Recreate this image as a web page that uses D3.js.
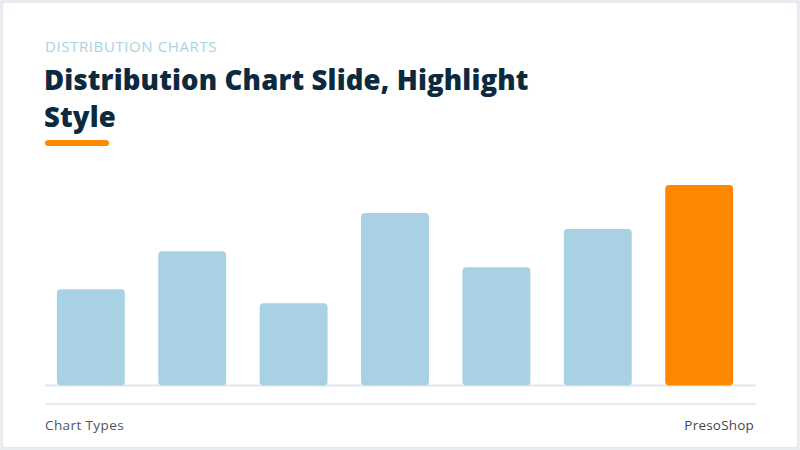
<!DOCTYPE html>
<html>
<head>
<meta charset="utf-8">
<script src="https://cdn.jsdelivr.net/npm/d3@7"></script>
<style>
  html, body { margin: 0; padding: 0; background: #e9ecf1; }
  svg { display: block; }
</style>
</head>
<body>
<div id="chart"></div>
<script>
// bar data
var categories = ["A", "B", "C", "D", "E", "F", "G"];
var values = [48, 67, 41, 86, 59, 78, 100];
var highlight = "G";

var eyebrow = "DISTRIBUTION CHARTS";
var titleLines = ["Distribution Chart Slide, Highlight", "Style"];
var footerLeft = "Chart Types";
var footerRight = "PresoShop";

var w = 800;
var h = 450;
var font = "'Open Sans', 'DejaVu Sans', sans-serif";

var svg = d3.select("#chart")
            .append("svg")
            .attr("width", w)
            .attr("height", h);

// card
svg.append("rect")
   .attr("x", 2.5)
   .attr("y", 2.5)
   .attr("width", w - 5)
   .attr("height", h - 5)
   .attr("rx", 3)
   .attr("fill", "#ffffff")
   .attr("stroke", "#e4e8ee")
   .attr("stroke-width", 1);

// header
svg.append("text")
   .attr("x", 45)
   .attr("y", 51.5)
   .attr("fill", "#a9d2e2")
   .attr("font-family", font)
   .attr("font-size", 15)
   .attr("letter-spacing", 0.6)
   .text(eyebrow);

svg.selectAll("text.title")
   .data(titleLines)
   .enter()
   .append("text")
   .attr("class", "title")
   .attr("x", 44)
   .attr("y", function(d, i) { return 89.5 + i * 37.4; })
   .attr("fill", "#0c2a3d")
   .attr("font-family", font)
   .attr("font-weight", 800)
   .attr("font-size", 27.5)
   .attr("letter-spacing", 0.15)
   .text(function(d) { return d; });

svg.append("rect")
   .attr("x", 45)
   .attr("y", 140)
   .attr("width", 64)
   .attr("height", 6)
   .attr("rx", 3)
   .attr("fill", "#ff8a00");

// scales
var xScale = d3.scaleBand()
               .domain(categories)
               .range([45, 745])
               .paddingInner(0.33)
               .paddingOuter(0.117);

var yScale = d3.scaleLinear()
               .domain([0, 100])
               .range([385.5, 185]);

// baseline
svg.append("line")
   .attr("x1", 45)
   .attr("x2", 756)
   .attr("y1", yScale(0))
   .attr("y2", yScale(0))
   .attr("stroke", "#e2e6eb")
   .attr("stroke-width", 2);

// bars
svg.selectAll("rect.bar")
   .data(values)
   .enter()
   .append("rect")
   .attr("class", "bar")
   .attr("x", function(d, i) { return xScale(categories[i]); })
   .attr("y", function(d) { return yScale(d); })
   .attr("width", xScale.bandwidth())
   .attr("height", function(d) { return yScale(0) - yScale(d); })
   .attr("rx", 4)
   .attr("fill", function(d, i) { return categories[i] === highlight ? "#ff8800" : "#a8d1e3"; });

// footer
svg.append("line")
   .attr("x1", 45)
   .attr("x2", 756)
   .attr("y1", 404)
   .attr("y2", 404)
   .attr("stroke", "#e9edf1")
   .attr("stroke-width", 2);

svg.append("text")
   .attr("x", 45)
   .attr("y", 429.5)
   .attr("fill", "#4b5661")
   .attr("font-family", font)
   .attr("font-size", 13.5)
   .attr("letter-spacing", 0.4)
   .text(footerLeft);

svg.append("text")
   .attr("x", 754)
   .attr("y", 429.5)
   .attr("text-anchor", "end")
   .attr("fill", "#3d4852")
   .attr("font-family", font)
   .attr("font-size", 13.5)
   .attr("letter-spacing", 0.2)
   .text(footerRight);
</script>
</body>
</html>
